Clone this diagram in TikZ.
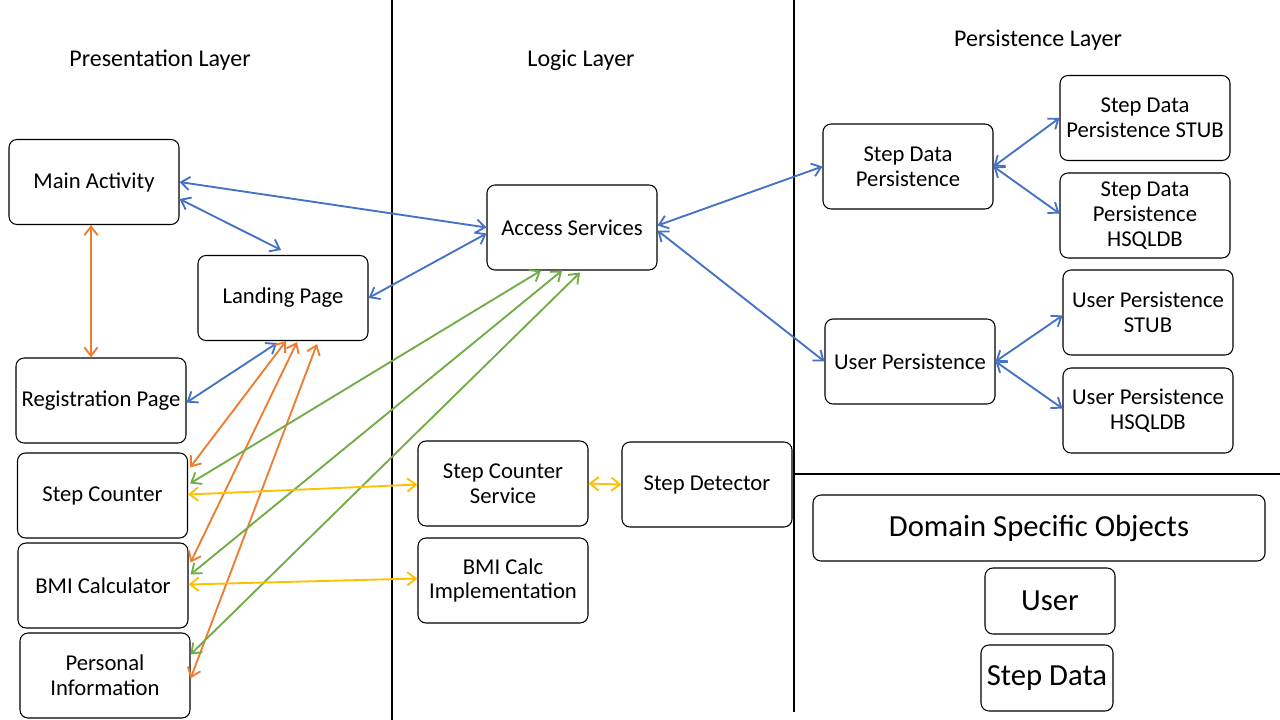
\documentclass[tikz,border=0pt]{standalone}
\usepackage{fontspec}
\setmainfont{Carlito}
\usetikzlibrary{positioning,arrows.meta,calc}
\definecolor{offblue}{HTML}{4472C4}
\definecolor{offorange}{HTML}{ED7D31}
\definecolor{offgreen}{HTML}{70AD47}
\definecolor{offyellow}{HTML}{FFC000}
\tikzset{
  blk/.style   ={rectangle, rounded corners=6pt, draw=black, line width=0.8pt,
                 fill=white, align=center, font=\fontsize{17}{18.5}\selectfont,
                 minimum width=127.5pt, minimum height=63.75pt, inner sep=2pt},
  blkl/.style  ={blk, font=\fontsize{23}{26}\selectfont, minimum height=49.5pt},
  ttl/.style   ={font=\fontsize{18}{20}\selectfont, inner sep=0pt},
  divline/.style={line width=1.5pt, draw=black},
  fb/.style    ={{Straight Barb[length=6.5pt,width=10pt]}-{Straight Barb[length=6.5pt,width=10pt]},
                 line width=1.4pt, draw=offblue},
  fo/.style    ={fb, draw=offorange},
  fg/.style    ={fb, draw=offgreen},
  fy/.style    ={fb, draw=offyellow}
}

\begin{document}
\begin{tikzpicture}[x=0.75pt, y=-0.75pt]
  \useasboundingbox (0,0) rectangle (1280,720);
  % layer dividers
  \draw[divline] (392,0) -- (392,720);
  \draw[divline] (794,0) -- (794,712);
  \draw[divline] (794,474) -- (1280,474);
  \node[ttl] (tpres) at (160,60) {Presentation Layer};
  \node[ttl] (tlog)  at (581,60) {Logic Layer};
  \node[ttl] (tpers) at (1038,40) {Persistence Layer};

  % presentation layer
  \node[blk] (main) at (94,182)    {Main Activity};
  \node[blk] (land) at (283,298)   {Landing Page};
  \node[blk] (reg)  at (101,400.5) {Registration Page};
  \node[blk] (stc)  at (102.5,495.5) {Step Counter};
  \node[blk] (bmi)  at (103,585.5) {BMI Calculator};
  \node[blk] (pers) at (105,675.5) {Personal\\Information};

  % logic layer
  \node[blk] (acc)  at (572,227.5) {Access Services};
  \node[blk] (scs)  at (503,483.5) {Step Counter\\Service};
  \node[blk] (sdet) at (707,484.5) {Step Detector};
  \node[blk] (bmii) at (503,580.5) {BMI Calc\\Implementation};

  % persistence layer
  \node[blk] (sdp)  at (908,166.5)  {Step Data\\Persistence};
  \node[blk] (sdps) at (1145,118)   {Step Data\\Persistence STUB};
  \node[blk] (sdph) at (1145,215.5) {Step Data\\Persistence\\HSQLDB};
  \node[blk] (up)   at (910,361.5)  {User Persistence};
  \node[blk] (ups)  at (1148,312.5) {User Persistence\\STUB};
  \node[blk] (uph)  at (1148,410.5) {User Persistence\\HSQLDB};

  % domain objects
  \node[blkl,minimum width=339pt] (dso) at (1039,528) {Domain Specific Objects};
  \node[blkl,minimum width=97.5pt] (user) at (1050,601) {User};
  \node[blkl,minimum width=99pt] (sdata) at (1047,678) {Step Data};

  % blue links
  \draw[fb] (main.east) -- (acc.west);
  \draw[fb] ($(main.east)+(0,17)$) -- ($(land.north)+(-2,-5)$);
  \draw[fb] (land.east) -- ($(acc.west)+(0,6)$);
  \draw[fb] ($(reg.east)+(0,2)$) -- ($(land.south)+(-6,2)$);
  \draw[fb] ($(acc.east)+(0,-2)$) -- (sdp.west);
  \draw[fb] ($(acc.east)+(0,3)$) -- (up.west);
  \draw[fb] (sdp.east) -- (sdps.west);
  \draw[fb] (sdp.east) -- ($(sdph.west)+(0,-2)$);
  \draw[fb] (up.east) -- ($(ups.west)+(0,3)$);
  \draw[fb] (up.east) -- ($(uph.west)+(0,-2)$);

  % orange links
  \draw[fo] ($(main.south)+(-3,0)$) -- ($(reg.north)+(-10,0)$);
  \draw[fo] ($(land.south)+(3,0)$) -- ($(stc.east)+(2,-28)$);
  \draw[fo] ($(land.south)+(14,1)$) -- ($(bmi.east)+(2,-23)$);
  \draw[fo] ($(land.south)+(34,3)$) -- ($(pers.east)+(0,3)$);

  % green links
  \draw[fg] ($(acc.south)+(-31,0)$) -- ($(stc.east)+(2,-12)$);
  \draw[fg] ($(acc.south)+(-10,0)$) -- ($(bmi.east)+(2,-11)$);
  \draw[fg] ($(acc.south)+(8,2)$) -- ($(pers.east)+(0,-21)$);

  % yellow links
  \draw[fy] ($(stc.east)+(0,-1)$) -- ($(scs.west)+(0,1)$);
  \draw[fy] ($(bmi.east)+(0,-1)$) -- ($(bmii.west)+(0,-2)$);
  \draw[fy] (scs.east) -- (sdet.west);
\end{tikzpicture}
\end{document}
